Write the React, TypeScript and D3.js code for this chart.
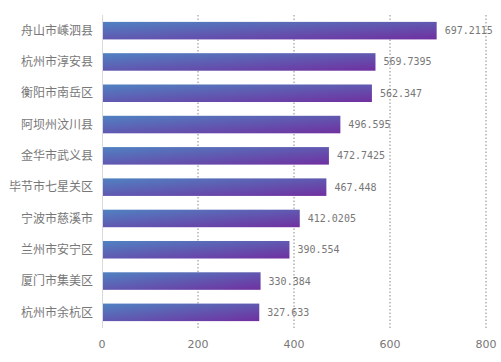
import React from "react";
import * as d3 from "d3";

const categories = ["舟山市嵊泗县", "杭州市淳安县", "衡阳市南岳区", "阿坝州汶川县", "金华市武义县", "毕节市七星关区", "宁波市慈溪市", "兰州市安宁区", "厦门市集美区", "杭州市余杭区"];
const values = [697.2115, 569.7395, 562.347, 496.595, 472.7425, 467.448, 412.0205, 390.554, 330.384, 327.633];
const valueLabels = ["697.2115", "569.7395", "562.347", "496.595", "472.7425", "467.448", "412.0205", "390.554", "330.384", "327.633"];
const xTicks = [0, 200, 400, 600, 800];

export default function App() {
  const W = 501, H = 362;
  const left = 102, right = 486, top = 15, bottom = 328;
  const x = d3.scaleLinear().domain([0, 800]).range([left, right]);
  const y = d3.scaleBand<string>().domain(categories).range([top, bottom]).paddingInner(0.44).paddingOuter(0.22);
  return (
    <svg width={W} height={H} style={{ position: "absolute", left: 0, top: 0 }}>
      <defs>
        <linearGradient id="barGrad" x1="0" y1="0" x2="1" y2="1">
          <stop offset="0" stopColor="#5082c2" />
          <stop offset="1" stopColor="#7030a0" />
        </linearGradient>
      </defs>
      {xTicks.slice(1).map((t) => (
        <line key={t} x1={x(t)} x2={x(t)} y1={top} y2={bottom} stroke="#888" strokeWidth={1} strokeDasharray="1.5,2" />
      ))}
      <line x1={left + 0.5} x2={left + 0.5} y1={top} y2={bottom} stroke="#d9d9d9" strokeWidth={1} />
      {categories.map((c, i) => (
        <g key={c}>
          <rect x={x(0) + 1} y={y(c)} width={x(values[i]) - x(0) - 1} height={y.bandwidth()} fill="url(#barGrad)" />
          <text x={x(values[i]) + 8} y={(y(c) as number) + y.bandwidth() / 2} dy="0.35em" fontFamily="DejaVu Sans Mono, monospace" fontSize={10} fill="#777">{valueLabels[i]}</text>
          <text x={93} y={(y(c) as number) + y.bandwidth() / 2} dy="0.35em" textAnchor="end" fontFamily="Noto Sans CJK SC, sans-serif" fontSize={12} fill="#777">{c}</text>
        </g>
      ))}
      {xTicks.map((t) => (
        <text key={t} x={x(t)} y={344} dy="0.35em" textAnchor="middle" fontFamily="DejaVu Sans, sans-serif" fontSize={11} fill="#777">{t}</text>
      ))}
    </svg>
  );
}
